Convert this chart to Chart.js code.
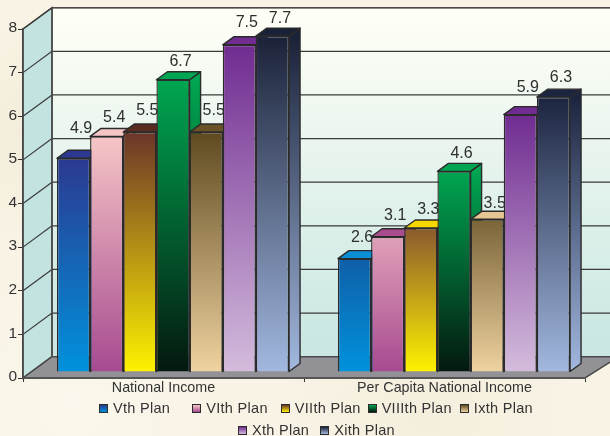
<!DOCTYPE html>
<html>
<head>
<meta charset="utf-8">
<script src="https://cdn.jsdelivr.net/npm/chart.js"></script>
<style>
  html, body { margin: 0; padding: 0; width: 610px; height: 436px; overflow: hidden; }
  body {
    background-color: #f8f3e5;
    background-image:
      radial-gradient(circle at 12% 92%, #fbf7ec 0, rgba(251,247,236,0) 22%),
      radial-gradient(circle at 70% 96%, #f4eedd 0, rgba(244,238,221,0) 25%),
      radial-gradient(circle at 6% 30%, #f3ecd9 0, rgba(243,236,217,0) 18%);
    font-family: "Liberation Sans", Arial, sans-serif;
  }
  #wrap { position: relative; width: 610px; height: 436px; }
  #legend { position: absolute; left: 0; top: 399px; width: 610px; color: #333; font-size: 14.5px; letter-spacing: 0.3px; }
  .row { position: absolute; display: flex; align-items: center; height: 18px; white-space: nowrap; }
  .swatch { width: 7px; height: 7px; border: 1px solid #2b2b2b; margin-right: 5px; flex: none; }
</style>
</head>
<body>
<div id="wrap">
  <canvas id="chart"></canvas>
  <div id="legend"></div>
</div>
<script>
const categories = ["National Income", "Per Capita National Income"];
const planNames = ["Vth Plan", "VIth Plan", "VIIth Plan", "VIIIth Plan", "Ixth Plan", "Xth Plan", "Xith Plan"];

const vth = [4.9, 2.6];
const vith = [5.4, 3.1];
const viith = [5.5, 3.3];
const viiith = [6.7, 4.6];
const ixth = [5.5, 3.5];
const xth = [7.5, 5.9];
const xith = [7.7, 6.3];
const planValues = [vth, vith, viith, viiith, ixth, xth, xith];

// bar colours: front top per category, bottom, top face per category
const frontTop = [
  ["#2b3990", "#0f5fa8"], ["#f6c6c6", "#e0a0b8"], ["#6b3529", "#8a5a2e"], ["#00a651", "#00a651"],
  ["#5f4a20", "#7a6438"], ["#702c91", "#702c91"], ["#1a2238", "#1c2540"]
];
const frontBottom = ["#0092dc", "#a64a90", "#fff200", "#04180f", "#efd3a0", "#d4bcdc", "#a2b8df"];
const topFace = [
  ["#2b3990", "#0a8fd6"], ["#f6c6c6", "#a84c8e"], ["#5a2c20", "#f5d800"], ["#00a651", "#00a651"],
  ["#6a5228", "#e5c592"], ["#702c91", "#702c91"], ["#1a2238", "#1c2540"]
];
// the value labels do not sit at one fixed height above the bars
const labelLift = [[30, 21], [19, 21], [21, 18], [18, 18], [21, 16], [22, 27], [17, 20]];

// legend rows: which plans, where the row starts, gaps between the items
const legendRows = [
  { plans: [0, 1, 2, 3, 4], left: 99, top: 0, gaps: [22, 13, 7, 8] },
  { plans: [5, 6], left: 238, top: 22, gaps: [11] }
];

const INK = "#2b2b2b";
const WALL_DX = 29, WALL_DY = -21.3; // depth of the side wall and floor
const BAR_DX = 9.5, BAR_DY = -6;     // bars stand a bit inside the floor
const SIDE_DX = 11, SIDE_DY = -8;    // depth of one bar

function barGradient(c, ds, i, top, base) {
  if (!isFinite(top) || !isFinite(base)) return frontBottom[ds];   // scales not laid out yet
  const g = c.createLinearGradient(0, top, 0, base);
  g.addColorStop(0, frontTop[ds][i]);
  g.addColorStop(1, frontBottom[ds]);
  return g;
}

function poly(c, pts, fill) {
  c.beginPath();
  pts.forEach((p, k) => k ? c.lineTo(p[0], p[1]) : c.moveTo(p[0], p[1]));
  c.closePath();
  c.fillStyle = fill;
  c.fill();
  c.stroke();
}

const room = {
  id: "room",
  beforeDraw(chart) {
    const c = chart.ctx, a = chart.chartArea, y = chart.scales.y;
    const L = a.left, B = a.bottom, T = a.top, R = a.right;
    const bx = L + WALL_DX, by = B + WALL_DY, ty = T + WALL_DY;
    c.save();
    c.lineWidth = 1.5;
    c.strokeStyle = "#4a4a4a";
    // back wall runs off the right edge
    const wall = c.createLinearGradient(0, ty, 0, by);
    wall.addColorStop(0, "#fffff6");
    wall.addColorStop(1, "#c8e6e2");
    c.fillStyle = wall;
    c.fillRect(bx, ty, chart.width - bx, by - ty);
    poly(c, [[L, T], [bx, ty], [bx, by], [L, B]], "#c3e3e1");
    y.ticks.forEach((t) => {
      const py = y.getPixelForValue(t.value);
      c.strokeStyle = "#3a3a3a";
      c.lineWidth = 1.2;
      c.beginPath();
      c.moveTo(bx, py + WALL_DY);
      c.lineTo(chart.width, py + WALL_DY);
      c.stroke();
      c.beginPath();
      c.moveTo(L, py);
      c.lineTo(bx, py + WALL_DY);
      c.stroke();
    });
    c.strokeStyle = "#4a4a4a";
    c.lineWidth = 1.5;
    c.beginPath();
    c.moveTo(bx, ty);
    c.lineTo(bx, by);
    c.stroke();
    c.beginPath();
    c.moveTo(bx, ty);
    c.lineTo(chart.width, ty);
    c.stroke();
    poly(c, [[L, B], [bx, by], [chart.width + 5, by], [chart.width + 5, B - 19], [R, B]], "#929296");
    c.restore();
  },
  beforeDatasetsDraw(chart) {
    // the library paints the first dataset last; here later plans must cover earlier ones
    const c = chart.ctx;
    planNames.forEach((name, ds) => {
      const meta = chart.getDatasetMeta(ds);
      c.save();
      c.translate(BAR_DX, BAR_DY);
      c.lineWidth = 1.4;
      c.strokeStyle = INK;
      c.lineJoin = "round";
      meta.data.forEach((bar, i) => {
        const l = bar.x - bar.width / 2, r = bar.x + bar.width / 2;
        poly(c, [[r, bar.y], [r + SIDE_DX, bar.y + SIDE_DY], [r + SIDE_DX, bar.base + SIDE_DY], [r, bar.base]],
          barGradient(c, ds, i, bar.y, bar.base));
        poly(c, [[l, bar.y], [l + SIDE_DX, bar.y + SIDE_DY], [r + SIDE_DX, bar.y + SIDE_DY], [r, bar.y]], topFace[ds][i]);
      });
      meta.controller.draw();
      c.restore();
      // labels go down with their bar so that the next bar can cover them
      c.save();
      c.font = "16px 'Liberation Sans', Arial, sans-serif";
      c.fillStyle = "#2e2e2e";
      c.textAlign = "center";
      c.textBaseline = "middle";
      meta.data.forEach((bar, i) => {
        c.fillText(planValues[ds][i].toFixed(1), bar.x + BAR_DX + 7.5, bar.y + BAR_DY - labelLift[ds][i]);
      });
      c.restore();
    });
    return false;
  }
};

new Chart(document.getElementById("chart"), {
  type: "bar",
  data: {
    labels: categories,
    datasets: planNames.map((name, ds) => ({
      label: name,
      data: planValues[ds],
      clip: false,
      backgroundColor: (ctx) => {
        if (ctx.type !== "data") return frontBottom[ds];
        const y = ctx.chart.scales.y;
        return barGradient(ctx.chart.ctx, ds, ctx.dataIndex, y.getPixelForValue(ctx.raw), y.getPixelForValue(0));
      },
      borderColor: INK,
      borderWidth: 1.4,
      barPercentage: 1,
      categoryPercentage: 0.826
    }))
  },
  options: {
    responsive: true,
    maintainAspectRatio: false,
    animation: false,
    layout: { padding: { top: 29, right: 25, left: 0, bottom: 34 } },
    scales: {
      x: {
        afterFit(scale) { scale.height = 24; },
        grid: { drawOnChartArea: false, tickLength: 4, color: "#333" },
        border: { color: "#555", width: 2 },
        ticks: { color: "#333", padding: -3, font: { family: "'Liberation Sans', Arial, sans-serif", size: 14.3 } }
      },
      y: {
        min: 0,
        max: 8,
        afterFit(scale) { scale.width = 23; },
        grid: { drawOnChartArea: false, tickLength: 5, color: "#333" },
        border: { color: "#444", width: 1.5 },
        ticks: { stepSize: 1, color: "#333", padding: 1, labelOffset: -1, font: { family: "'Liberation Sans', Arial, sans-serif", size: 15.5 } }
      }
    },
    plugins: {
      tooltip: { enabled: false },
      legend: { display: false }
    }
  },
  plugins: [room]
});

// legend as plain html, its rows are unevenly spaced in the original
const legendBox = document.getElementById("legend");
legendRows.forEach((row) => {
  const div = document.createElement("div");
  div.className = "row";
  div.style.left = row.left + "px";
  div.style.top = row.top + "px";
  row.plans.forEach((ds, k) => {
    const sw = document.createElement("span");
    sw.className = "swatch";
    sw.style.background = "linear-gradient(" + frontTop[ds][0] + "," + frontBottom[ds] + ")";
    const txt = document.createElement("span");
    txt.textContent = planNames[ds];
    if (k < row.gaps.length) txt.style.marginRight = row.gaps[k] + "px";
    div.append(sw, txt);
  });
  legendBox.append(div);
});
</script>
</body>
</html>
